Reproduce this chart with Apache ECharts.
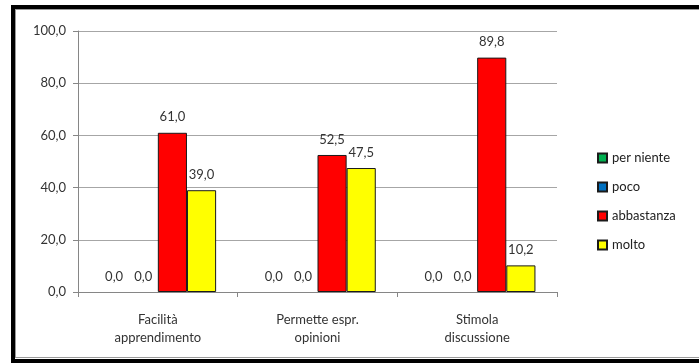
<!DOCTYPE html>
<html>
<head>
<meta charset="utf-8">
<script src="https://cdn.jsdelivr.net/npm/echarts@6/dist/echarts.min.js"></script>
<style>
  html, body { margin: 0; padding: 0; background: #fff; }
  #chart { width: 699px; height: 363px; }
</style>
</head>
<body>
<div id="chart"></div>
<script>
// Survey answers per statement (percent)
const categories = ['Facilità\napprendimento', 'Permette espr.\nopinioni', 'Stimola\ndiscussione'];
const perNiente = [0.0, 0.0, 0.0];
const poco = [0.0, 0.0, 0.0];
const abbastanza = [61.0, 52.5, 89.8];
const molto = [39.0, 47.5, 10.2];
const yTicks = [0, 20, 40, 60, 80, 100];

const FONT = 'Lato, "Open Sans", sans-serif';
const fmt = v => Number(v).toFixed(1).replace('.', ',');

function barSeries(name, values, color) {
  return {
    name: name,
    type: 'bar',
    // zero-height bars get no outline so they vanish into the axis
    data: values.map(v => v === 0 ? { value: v, itemStyle: { borderWidth: 0 } } : v),
    barGap: '0%',
    barCategoryGap: '27%',
    itemStyle: { color: color, borderColor: '#1a1a1a', borderWidth: 1 },
    label: {
      show: true,
      position: 'top',
      distance: 9,
      color: '#333',
      fontFamily: FONT,
      fontSize: 13,
      formatter: p => fmt(p.value)
    }
  };
}

const chart = echarts.init(document.getElementById('chart'), null, { renderer: 'canvas' });
chart.setOption({
  animation: false,
  backgroundColor: '#fff',
  grid: { left: 78, right: 142, top: 31, bottom: 71 },
  legend: {
    orient: 'vertical',
    left: 592,
    top: 146,
    itemWidth: 9,
    itemHeight: 9,
    itemGap: 15,
    icon: 'rect',
    textStyle: { fontFamily: FONT, fontSize: 13, color: '#222', lineHeight: 14 },
    data: ['per niente', 'poco', 'abbastanza', 'molto']
  },
  xAxis: {
    type: 'category',
    data: categories,
    axisLine: { lineStyle: { color: '#868686' } },
    axisTick: { show: true, length: 5, lineStyle: { color: '#868686' } },
    axisLabel: { fontFamily: FONT, fontSize: 13, color: '#333', lineHeight: 18, margin: 19 }
  },
  yAxis: {
    type: 'value',
    min: yTicks[0],
    max: yTicks[yTicks.length - 1],
    interval: 20,
    axisLine: { show: true, lineStyle: { color: '#868686' } },
    axisTick: { show: true, length: 5, lineStyle: { color: '#868686' } },
    splitLine: { lineStyle: { color: '#a6a6a6' } },
    axisLabel: { fontFamily: FONT, fontSize: 13, color: '#333', margin: 12, formatter: v => fmt(v) }
  },
  series: [
    barSeries('per niente', perNiente, '#00B050'),
    barSeries('poco', poco, '#0070C0'),
    barSeries('abbastanza', abbastanza, '#FF0000'),
    barSeries('molto', molto, '#FFFF00')
  ],
  graphic: [
    // chart frame
    { type: 'rect', shape: { x: 11, y: 5, width: 688, height: 4 }, style: { fill: '#000' }, silent: true },
    { type: 'line', shape: { x1: 15, y1: 9.5, x2: 699, y2: 9.5 }, style: { stroke: '#9a9a9a', lineWidth: 1 }, silent: true },
    { type: 'rect', shape: { x: 11, y: 5, width: 4, height: 358 }, style: { fill: '#000' }, silent: true },
    { type: 'line', shape: { x1: 15.5, y1: 9, x2: 15.5, y2: 357 }, style: { stroke: '#9a9a9a', lineWidth: 1 }, silent: true },
    { type: 'line', shape: { x1: 15, y1: 357.5, x2: 699, y2: 357.5 }, style: { stroke: '#9a9a9a', lineWidth: 1 }, silent: true },
    { type: 'rect', shape: { x: 11, y: 359, width: 688, height: 4 }, style: { fill: '#000' }, silent: true }
  ]
});
</script>
</body>
</html>
